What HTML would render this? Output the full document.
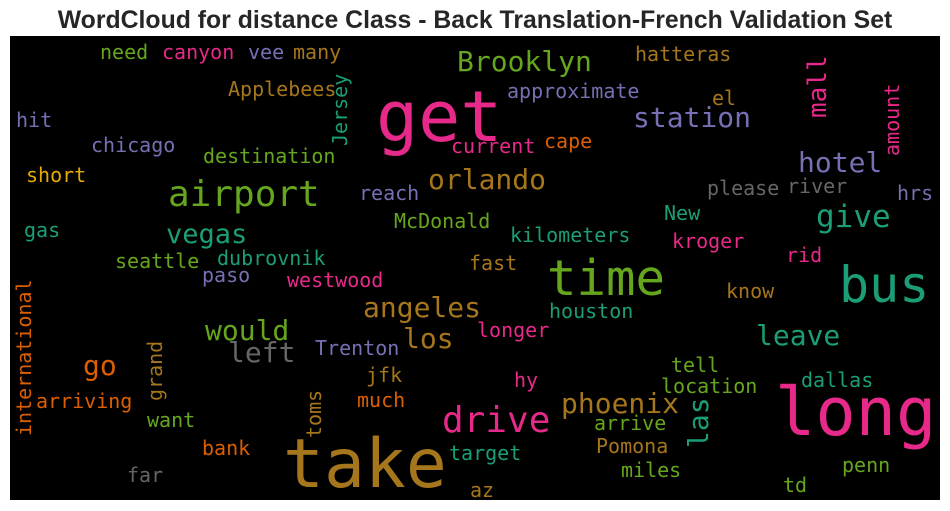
<!DOCTYPE html>
<html><head><meta charset="utf-8"><title>WordCloud</title>
<style>
html,body{margin:0;padding:0;background:#fff;width:950px;height:511px;overflow:hidden}
svg{display:block}
.w{font-family:"DejaVu Sans Mono","Liberation Mono",monospace}
</style></head>
<body>
<svg width="950" height="511" viewBox="0 0 950 511">
<text x="475" y="28" text-anchor="middle" font-family="Liberation Sans, Arial, sans-serif" font-weight="bold" font-size="24.8" fill="#262626">WordCloud for distance Class - Back Translation-French Validation Set</text>
<rect x="10" y="36" width="930" height="464" fill="#000"/>
<g class="w">
<text x="100" y="59" font-size="20" fill="#66a61e">need</text>
<text x="162" y="59" font-size="20" fill="#e7298a">canyon</text>
<text x="248" y="59" font-size="20" fill="#7570b3">vee</text>
<text x="293" y="59" font-size="20" fill="#a6761d">many</text>
<text x="228" y="96" font-size="20" fill="#a6761d">Applebees</text>
<text transform="translate(347,146) rotate(-90)" font-size="20" fill="#1b9e77">Jersey</text>
<text x="16" y="127" font-size="20" fill="#7570b3">hit</text>
<text x="91" y="152" font-size="20" fill="#7570b3">chicago</text>
<text x="203" y="163" font-size="20" fill="#66a61e">destination</text>
<text x="26" y="182" font-size="20" fill="#e6ab02">short</text>
<text x="168" y="206" font-size="36" fill="#66a61e">airport</text>
<text x="359" y="200" font-size="20" fill="#7570b3">reach</text>
<text x="24" y="237" font-size="20" fill="#1b9e77">gas</text>
<text x="166" y="243" font-size="27" fill="#1b9e77">vegas</text>
<text x="394" y="228" font-size="20" fill="#66a61e">McDonald</text>
<text x="115" y="268" font-size="20" fill="#66a61e">seattle</text>
<text x="217" y="265" font-size="20" fill="#1b9e77">dubrovnik</text>
<text x="376" y="141" font-size="70" fill="#e7298a">get</text>
<text x="451" y="153" font-size="20" fill="#e7298a">current</text>
<text x="428" y="189" font-size="28" fill="#a6761d">orlando</text>
<text x="457" y="71" font-size="28" fill="#66a61e">Brooklyn</text>
<text x="635" y="61" font-size="20" fill="#a6761d">hatteras</text>
<text x="507" y="98" font-size="20" fill="#7570b3">approximate</text>
<text x="712" y="105" font-size="20" fill="#a6761d">el</text>
<text x="633" y="127" font-size="28" fill="#7570b3">station</text>
<text transform="translate(826,118) rotate(-90)" font-size="26" fill="#e7298a">mall</text>
<text x="544" y="148" font-size="20" fill="#d95f02">cape</text>
<text transform="translate(899,156) rotate(-90)" font-size="20" fill="#e7298a">amount</text>
<text x="798" y="172" font-size="28" fill="#7570b3">hotel</text>
<text x="707" y="195" font-size="20" fill="#666666">please</text>
<text x="787" y="193" font-size="20" fill="#666666">river</text>
<text x="897" y="200" font-size="20" fill="#7570b3">hrs</text>
<text x="816" y="227" font-size="31" fill="#1b9e77">give</text>
<text x="664" y="220" font-size="20" fill="#1b9e77">New</text>
<text x="510" y="242" font-size="20" fill="#1b9e77">kilometers</text>
<text x="672" y="248" font-size="20" fill="#e7298a">kroger</text>
<text x="786" y="262" font-size="20" fill="#e7298a">rid</text>
<text x="469" y="270" font-size="20" fill="#a6761d">fast</text>
<text x="202" y="282" font-size="20" fill="#7570b3">paso</text>
<text x="287" y="287" font-size="20" fill="#e7298a">westwood</text>
<text x="363" y="317" font-size="28" fill="#a6761d">angeles</text>
<text x="205" y="340" font-size="28" fill="#66a61e">would</text>
<text x="228" y="362" font-size="28" fill="#666666">left</text>
<text x="315" y="355" font-size="20" fill="#7570b3">Trenton</text>
<text x="403" y="348" font-size="28" fill="#a6761d">los</text>
<text transform="translate(31,436) rotate(-90)" font-size="20" fill="#d95f02">international</text>
<text x="83" y="375" font-size="28" fill="#d95f02">go</text>
<text transform="translate(162,401) rotate(-90)" font-size="20" fill="#a6761d">grand</text>
<text x="36" y="408" font-size="20" fill="#d95f02">arriving</text>
<text x="366" y="382" font-size="20" fill="#a6761d">jfk</text>
<text x="357" y="407" font-size="20" fill="#d95f02">much</text>
<text transform="translate(321,438) rotate(-90)" font-size="20" fill="#a6761d">toms</text>
<text x="147" y="427" font-size="20" fill="#66a61e">want</text>
<text x="442" y="432" font-size="36" fill="#e7298a">drive</text>
<text x="202" y="455" font-size="20" fill="#d95f02">bank</text>
<text x="283" y="487" font-size="68" fill="#a6761d">take</text>
<text x="127" y="482" font-size="20" fill="#666666">far</text>
<text x="449" y="460" font-size="20" fill="#1b9e77">target</text>
<text x="470" y="497" font-size="20" fill="#a6761d">az</text>
<text x="547" y="295" font-size="49" fill="#66a61e">time</text>
<text x="839" y="302" font-size="50" fill="#1b9e77">bus</text>
<text x="726" y="298" font-size="20" fill="#a6761d">know</text>
<text x="549" y="318" font-size="20" fill="#1b9e77">houston</text>
<text x="477" y="337" font-size="20" fill="#e7298a">longer</text>
<text x="756" y="345" font-size="28" fill="#1b9e77">leave</text>
<text x="671" y="372" font-size="20" fill="#66a61e">tell</text>
<text x="514" y="387" font-size="20" fill="#e7298a">hy</text>
<text x="661" y="393" font-size="20" fill="#66a61e">location</text>
<text x="801" y="387" font-size="20" fill="#1b9e77">dallas</text>
<text x="775" y="435" font-size="67" fill="#e7298a">long</text>
<text x="561" y="413" font-size="28" fill="#a6761d">phoenix</text>
<text transform="translate(708,448) rotate(-90)" font-size="28" fill="#1b9e77">las</text>
<text x="594" y="430" font-size="20" fill="#66a61e">arrive</text>
<text x="596" y="453" font-size="20" fill="#a6761d">Pomona</text>
<text x="621" y="477" font-size="20" fill="#66a61e">miles</text>
<text x="842" y="472" font-size="20" fill="#66a61e">penn</text>
<text x="783" y="492" font-size="20" fill="#66a61e">td</text>
</g>
</svg>
</body></html>
